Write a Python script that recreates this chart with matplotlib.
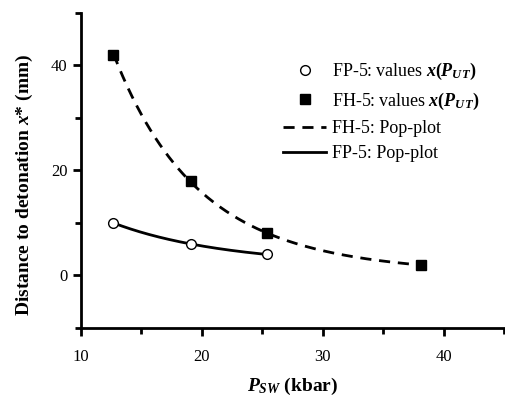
import numpy as np
import matplotlib.pyplot as plt
from matplotlib.ticker import MultipleLocator

plt.rcParams['font.family'] = 'Liberation Serif'
plt.rcParams['mathtext.fontset'] = 'custom'
plt.rcParams['mathtext.rm'] = 'Liberation Serif:bold'
plt.rcParams['mathtext.it'] = 'Liberation Serif:bold:italic'
plt.rcParams['mathtext.bf'] = 'Liberation Serif:bold'

# data
p_fp5 = [12.7, 19.1, 25.4]
x_fp5 = [10, 6, 4]
p_fh5 = [12.7, 19.1, 25.4, 38.1]
x_fh5 = [42, 18, 8, 2]

# pop-plot curves: smooth fits through the points (log scale)
cf = np.polyfit(p_fh5, np.log(x_fh5), 2)
cp = np.polyfit(p_fp5, np.log(x_fp5), 2)
pf = np.linspace(p_fh5[0], p_fh5[-1], 200)
pp = np.linspace(p_fp5[0], p_fp5[-1], 200)

fig = plt.figure(figsize=(5.05, 4.01), dpi=100)
ax = fig.add_axes([0.160, 0.182, 0.838, 0.786])

ax.plot(p_fp5, x_fp5, 'o', mfc='white', mec='black', ms=7, mew=1,
        label=r'FP-5: values $x(P_{UT})$', zorder=3)
ax.plot(p_fh5, x_fh5, 's', color='black', ms=6.5,
        label=r'FH-5: values $x(P_{UT})$', zorder=3)
ax.plot(pf, np.exp(np.polyval(cf, pf)), 'k', ls=(0, (4, 2.8)), lw=2,
        label='FH-5: Pop-plot')
ax.plot(pp, np.exp(np.polyval(cp, pp)), 'k-', lw=2,
        label='FP-5: Pop-plot')

ax.set_xlim(10, 45)
ax.set_ylim(-10, 50)
ax.xaxis.set_major_locator(MultipleLocator(10))
ax.xaxis.set_minor_locator(MultipleLocator(5))
ax.yaxis.set_minor_locator(MultipleLocator(10))
ax.set_yticks([0, 20, 40])

for s in ['top', 'right']:
    ax.spines[s].set_visible(False)
for s in ['left', 'bottom']:
    ax.spines[s].set_linewidth(2)
ax.tick_params(which='major', direction='out', length=6, width=2, labelsize=12)
ax.tick_params(axis='x', which='major', pad=9)
ax.tick_params(which='minor', direction='out', length=4, width=2)

ax.set_xlabel(r'$P_{SW}$ (kbar)', fontsize=14, fontweight='bold', labelpad=8)
ax.set_ylabel(r'Distance to detonation $x$* (mm)', fontsize=14,
              fontweight='bold')
ax.yaxis.set_label_coords(-0.109, 0.455)

ax.legend(loc='upper left', bbox_to_anchor=(0.478, 0.846), frameon=False,
          borderpad=0, borderaxespad=0, fontsize=13, handlelength=2.4,
          handletextpad=0.3, labelspacing=0.45)

fig.savefig('out.png', dpi=100)
